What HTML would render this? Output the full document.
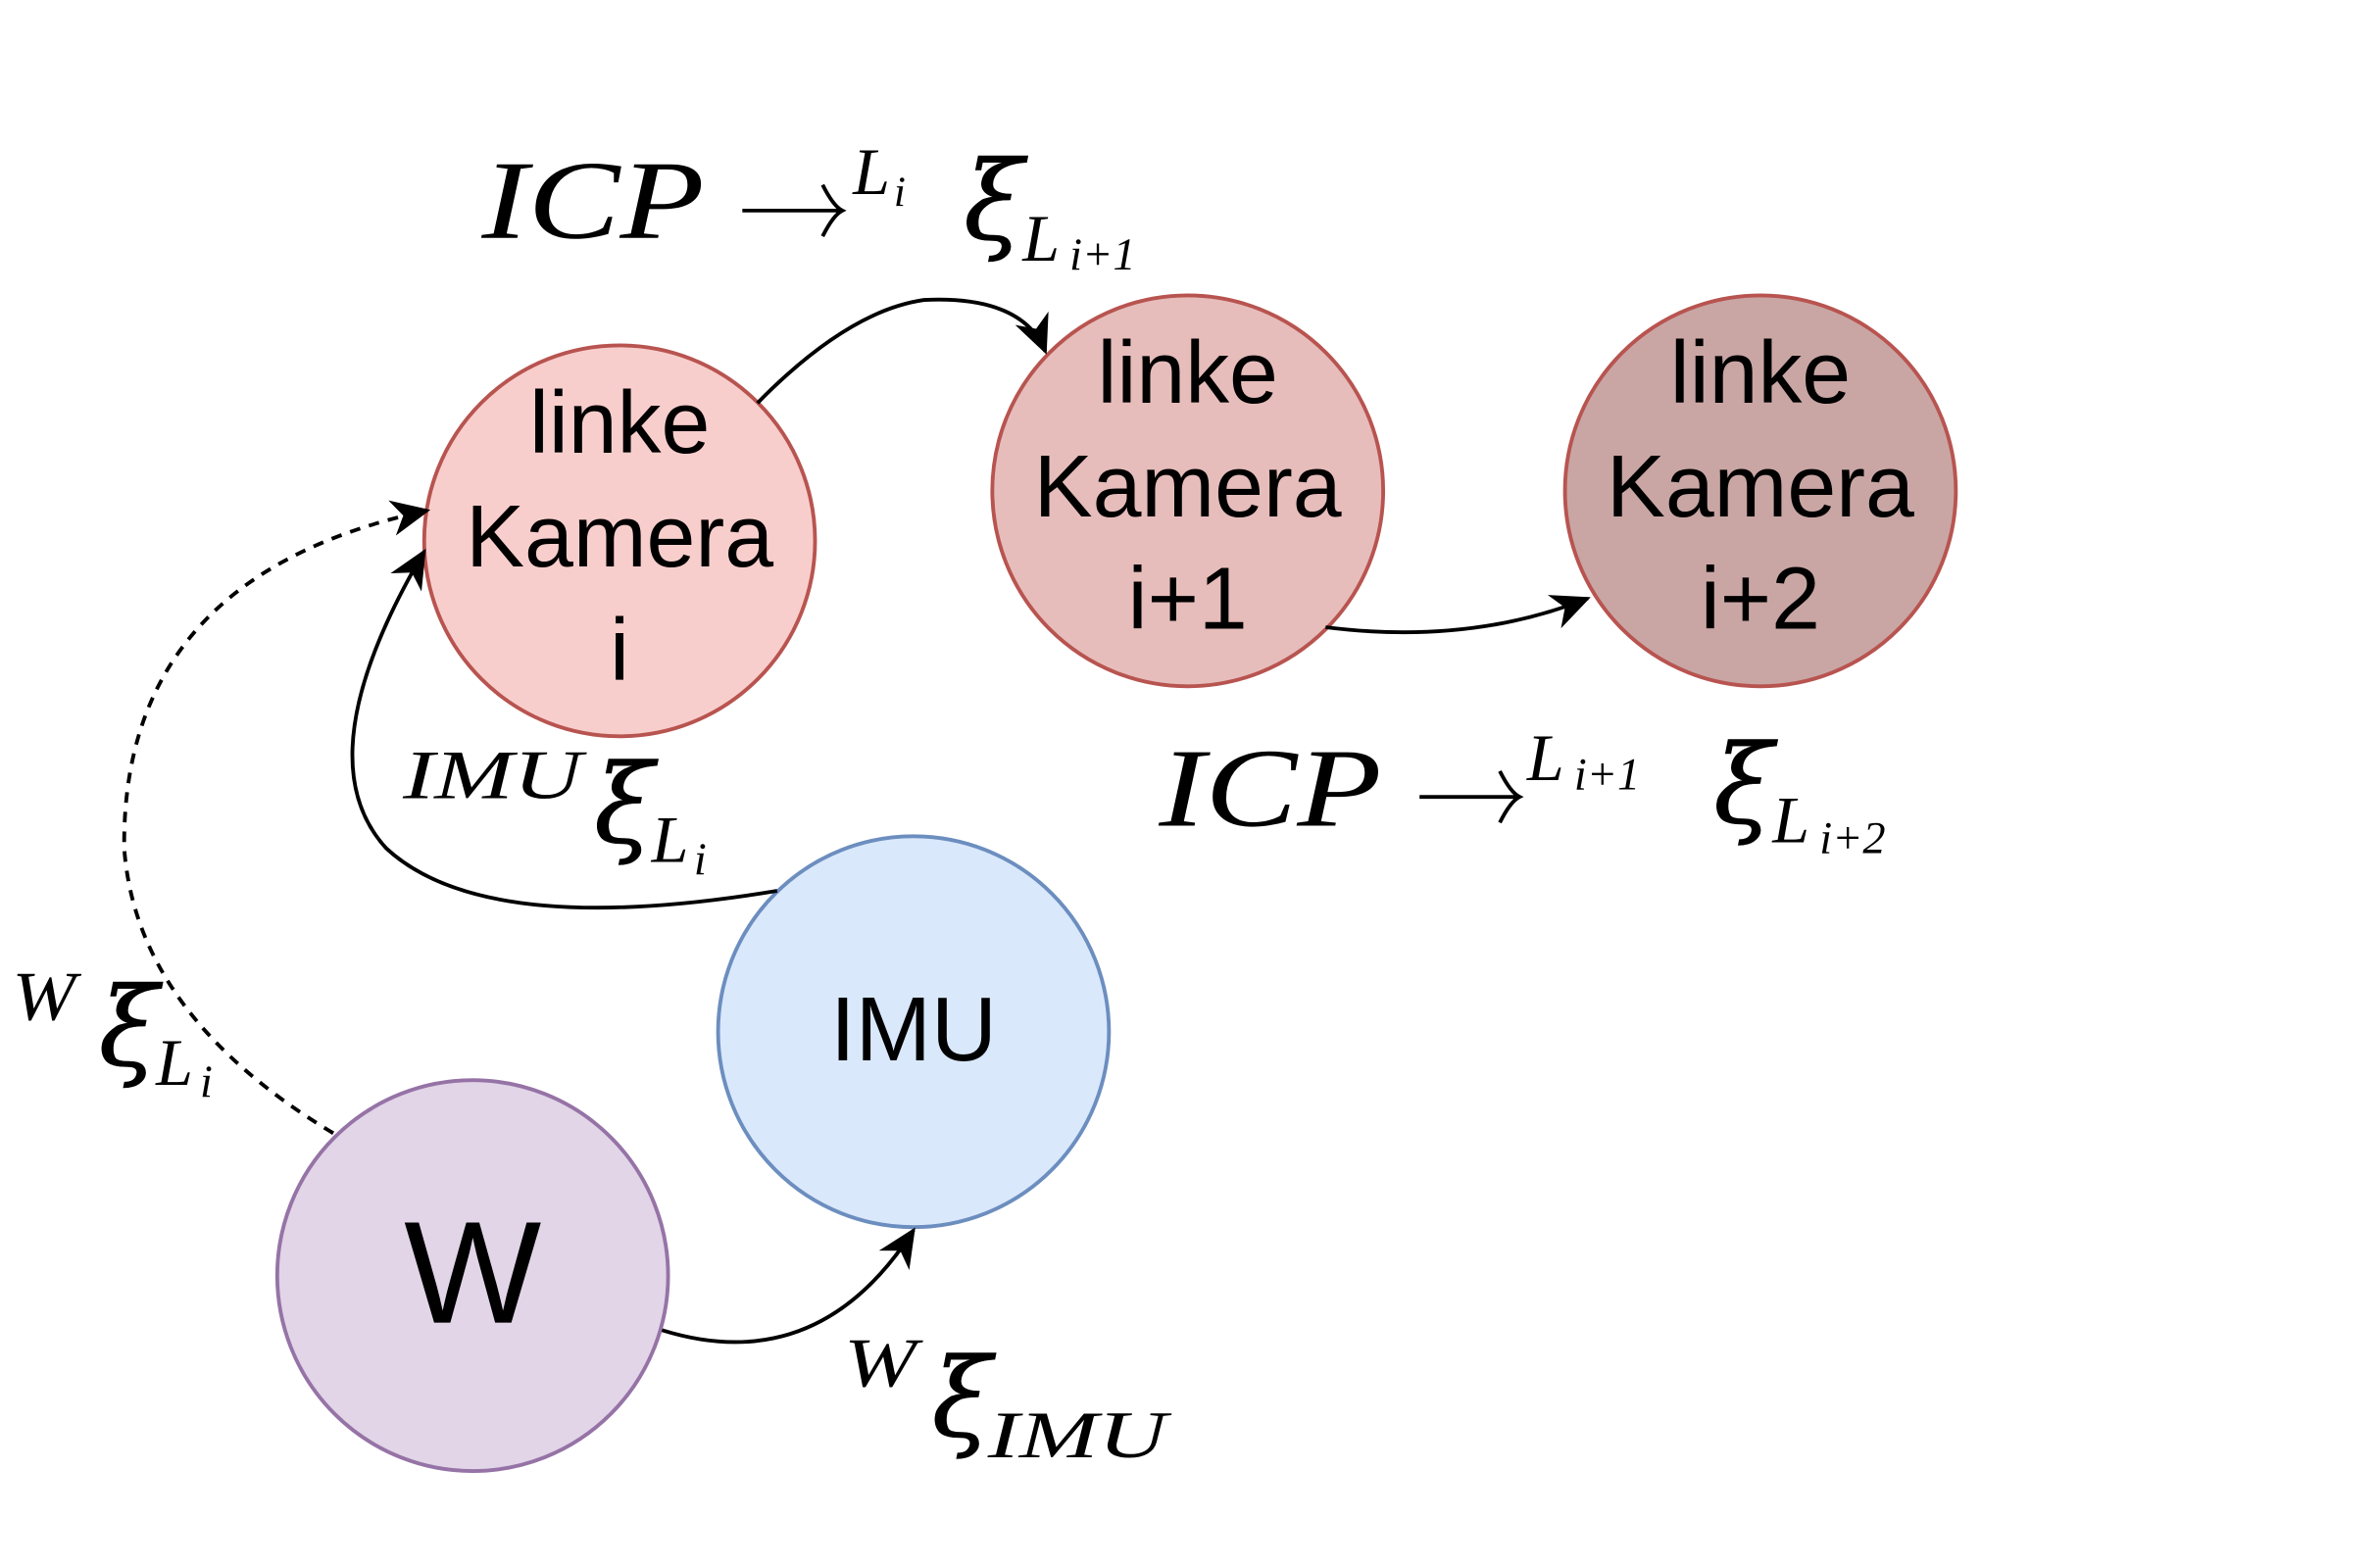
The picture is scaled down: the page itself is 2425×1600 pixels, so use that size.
<!DOCTYPE html>
<html><head><style>html,body{margin:0;padding:0;background:#fff}svg{display:block}
.n{font-family:"Liberation Sans",sans-serif;fill:#000;text-anchor:middle}
.m{font-family:"Liberation Serif",serif;font-style:italic;fill:#000}
.x{font-family:"DejaVu Serif",serif;font-style:italic;fill:#000;stroke:#000;stroke-width:0.3}
</style></head><body>
<svg width="2425" height="1600" viewBox="0 0 1569 1035" preserveAspectRatio="none" xmlns="http://www.w3.org/2000/svg">
<defs>
<marker id="b" viewBox="-22 -12 26 24" refX="0" refY="0" markerWidth="28" markerHeight="28" orient="auto" markerUnits="userSpaceOnUse"><path d="M-22,-11 L2,0 L-22,11 L-15,0 Z" fill="#000"/></marker></defs>
<circle cx="409" cy="357" r="129" fill="#f8cecc" stroke="#b85450" stroke-width="2.5"/>
<circle cx="784" cy="324" r="129" fill="#e6bdbb" stroke="#b85450" stroke-width="2.5"/>
<circle cx="1162" cy="324" r="129" fill="#c9a6a4" stroke="#b85450" stroke-width="2.5"/>
<circle cx="603" cy="681" r="129" fill="#dae8fc" stroke="#6c8ebf" stroke-width="2.5"/>
<circle cx="312" cy="842" r="129" fill="#e1d5e7" stroke="#9673a6" stroke-width="2.5"/>
<g class="n" font-size="58">
<text x="409" y="299">linke</text><text x="409" y="374">Kamera</text><text x="409" y="449">i</text>
<text x="784" y="266">linke</text><text x="784" y="341">Kamera</text><text x="784" y="415">i+1</text>
<text x="1162" y="266">linke</text><text x="1162" y="341">Kamera</text><text x="1162" y="415">i+2</text>
<text x="603" y="700" font-size="60">IMU</text>
<text x="312" y="873" font-size="96">W</text>
</g>
<g fill="none" stroke="#000" stroke-width="2.5">
<path d="M500,266 Q560,205 610,198 Q675,195 690,232" marker-end="url(#b)"/>
<path d="M875,414 Q970,426 1048,395" marker-end="url(#b)"/>
<path d="M513,588 Q320,620 255,560 Q200,500 280,364" marker-end="url(#b)"/>
<path d="M220,748 Q90,670 82,560 Q80,380 282,337" stroke-dasharray="7,6" marker-end="url(#b)"/>
<path d="M437,878 Q540,910 603,812" marker-end="url(#b)"/>
<path d="M490,139 H556 M543,122 Q550,136 556,139 Q550,142 543,156" stroke-width="2.5"/>
<path d="M937,526 H1003 M990,509 Q997,523 1003,526 Q997,529 990,543" stroke-width="2.5"/>
</g>
<text class="m" x="318" y="157" font-size="74" textLength="147" lengthAdjust="spacingAndGlyphs">ICP</text>
<text class="m" x="563" y="128" font-size="44">L</text><text class="m" x="590" y="136" font-size="28">i</text>
<text class="x" x="636" y="158" font-size="72">ξ</text>
<text class="m" x="675" y="172" font-size="44">L</text><text class="m" x="706" y="178" font-size="30">i+1</text>

<text class="m" x="765" y="545" font-size="74" textLength="147" lengthAdjust="spacingAndGlyphs">ICP</text>
<text class="m" x="1008" y="515" font-size="44">L</text><text class="m" x="1039" y="521" font-size="30">i+1</text>
<text class="x" x="1131" y="543" font-size="72">ξ</text>
<text class="m" x="1170" y="556" font-size="44">L</text><text class="m" x="1201" y="563" font-size="30">i+2</text>

<text class="m" x="266" y="527" font-size="46" textLength="118" lengthAdjust="spacingAndGlyphs">IMU</text>
<text class="x" x="392" y="556" font-size="72">ξ</text>
<text class="m" x="430" y="569" font-size="44">L</text><text class="m" x="458" y="577" font-size="30">i</text>

<text class="m" x="8" y="673" font-size="46" textLength="42" lengthAdjust="spacingAndGlyphs">W</text>
<text class="x" x="65" y="703" font-size="72">ξ</text>
<text class="m" x="103" y="716" font-size="44">L</text><text class="m" x="132" y="724" font-size="30">i</text>

<text class="m" x="557" y="915" font-size="46" textLength="48" lengthAdjust="spacingAndGlyphs">W</text>
<text class="x" x="615" y="948" font-size="72">ξ</text>
<text class="m" x="652" y="962" font-size="44" textLength="118" lengthAdjust="spacingAndGlyphs">IMU</text>
</svg>
</body></html>
